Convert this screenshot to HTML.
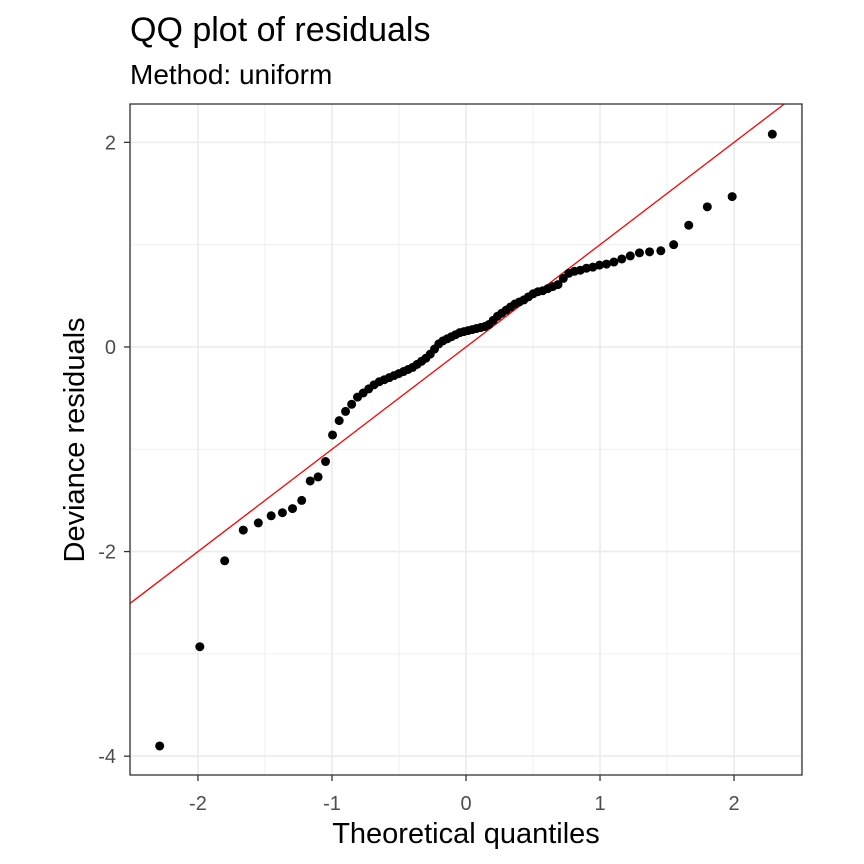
<!DOCTYPE html>
<html><head><meta charset="utf-8"><style>
body{margin:0;background:#fff}
svg{display:block;font-family:"Liberation Sans",Arial,sans-serif}
</style></head><body>
<svg id="chart" width="864" height="864" viewBox="0 0 864 864">
<rect width="864" height="864" fill="#fff"/>
<text x="130" y="41" font-size="34" fill="#000">QQ plot of residuals</text>
<text x="130" y="84" font-size="28" fill="#000">Method: uniform</text>
<g id="grid"></g><g id="line"></g><g id="pts"></g><g id="axes"></g>
<text x="466" y="843" font-size="29" text-anchor="middle" fill="#000">Theoretical quantiles</text>
<text transform="translate(84,440) rotate(-90)" font-size="29" text-anchor="middle" fill="#000">Deviance residuals</text>
</svg>
<script>
const residuals=[-3.90,-2.93,-2.09,-1.79,-1.72,-1.65,-1.62,-1.58,-1.50,-1.31,-1.27,-1.12,-0.86,-0.72,-0.63,-0.56,-0.49,-0.45,-0.41,-0.37,-0.34,-0.32,-0.30,-0.28,-0.26,-0.24,-0.22,-0.20,-0.17,-0.14,-0.11,-0.07,-0.02,0.03,0.06,0.08,0.10,0.12,0.14,0.15,0.16,0.17,0.18,0.19,0.20,0.22,0.26,0.30,0.33,0.36,0.39,0.42,0.44,0.46,0.49,0.52,0.54,0.55,0.57,0.59,0.61,0.67,0.72,0.74,0.75,0.77,0.78,0.80,0.81,0.83,0.86,0.89,0.92,0.93,0.94,1.00,1.19,1.37,1.47,2.08];
const xTicks=[-2,-1,0,1,2];
const yTicks=[-4,-2,0,2];
const xMinor=[-2.5,-1.5,-0.5,0.5,1.5,2.5];
const yMinor=[-3,-1,1];
const lineIntercept=0, lineSlope=1;
const L=130,R=802,T=104,B=775,xmin=-2.507,xmax=2.507,ymin=-4.184,ymax=2.375;
const sx=v=>L+(v-xmin)/(xmax-xmin)*(R-L);
const sy=v=>B-(v-ymin)/(ymax-ymin)*(B-T);
function qnorm(p){const a=[-39.6968302866538,220.946098424521,-275.928510446969,138.357751867269,-30.6647980661472,2.50662827745924],b=[-54.4760987982241,161.585836858041,-155.698979859887,66.8013118877197,-13.2806815528857],c=[-0.00778489400243029,-0.322396458041136,-2.40075827716184,-2.54973253934373,4.37466414146497,2.93816398269878],d=[0.00778469570904146,0.32246712907004,2.445134137143,3.75440866190742];let q,r;if(p<0.02425){q=Math.sqrt(-2*Math.log(p));return(((((c[0]*q+c[1])*q+c[2])*q+c[3])*q+c[4])*q+c[5])/((((d[0]*q+d[1])*q+d[2])*q+d[3])*q+1);}if(p>1-0.02425){q=Math.sqrt(-2*Math.log(1-p));return-(((((c[0]*q+c[1])*q+c[2])*q+c[3])*q+c[4])*q+c[5])/((((d[0]*q+d[1])*q+d[2])*q+d[3])*q+1);}q=p-0.5;r=q*q;return(((((a[0]*r+a[1])*r+a[2])*r+a[3])*r+a[4])*r+a[5])*q/(((((b[0]*r+b[1])*r+b[2])*r+b[3])*r+b[4])*r+1);}
const NS="http://www.w3.org/2000/svg";
function mk(tag,attrs,parent){const e=document.createElementNS(NS,tag);for(const k in attrs)e.setAttribute(k,attrs[k]);parent.appendChild(e);return e;}
const grid=document.getElementById('grid'),axes=document.getElementById('axes'),pts=document.getElementById('pts'),lg=document.getElementById('line');
let e=mk('rect',{x:L,y:T,width:R-L,height:B-T,fill:'#fff'},grid);


xMinor.forEach(v=>{const g=mk('line',{x1:sx(v),x2:sx(v),y1:T,y2:B,stroke:'#ebebeb','stroke-width':0.8},grid);

});
yMinor.forEach(v=>{const g=mk('line',{x1:L,x2:R,y1:sy(v),y2:sy(v),stroke:'#ebebeb','stroke-width':0.8},grid);

});
xTicks.forEach(v=>{const g=mk('line',{x1:sx(v),x2:sx(v),y1:T,y2:B,stroke:'#ebebeb','stroke-width':1.6},grid);


const t=mk('line',{x1:sx(v),x2:sx(v),y1:B,y2:B+6,stroke:'#333','stroke-width':1.3},axes);


const l=mk('text',{x:sx(v),y:B+35,'font-size':20,'text-anchor':'middle',fill:'#4d4d4d'},axes);l.textContent=v;

});
yTicks.forEach(v=>{const g=mk('line',{x1:L,x2:R,y1:sy(v),y2:sy(v),stroke:'#ebebeb','stroke-width':1.6},grid);


const t=mk('line',{x1:L-6,x2:L,y1:sy(v),y2:sy(v),stroke:'#333','stroke-width':1.3},axes);


const l=mk('text',{x:L-14,y:sy(v)+7,'font-size':20,'text-anchor':'end',fill:'#4d4d4d'},axes);l.textContent=v;

});
const n=residuals.length;
residuals.forEach((v,i)=>{const q=qnorm((i+0.9)/(n+0.8));const c=mk('circle',{cx:sx(q),cy:sy(v),r:4.5,fill:'#000'},pts);

});
const rl=mk('line',{x1:sx(xmin),y1:sy(lineIntercept+lineSlope*xmin),x2:sx(2.375),y2:sy(lineIntercept+lineSlope*2.375),stroke:'#ff0000','stroke-width':1.3},lg);


const br=mk('rect',{x:L,y:T,width:R-L,height:B-T,fill:'none',stroke:'#333','stroke-width':1.3},axes);


</script>
</body></html>
